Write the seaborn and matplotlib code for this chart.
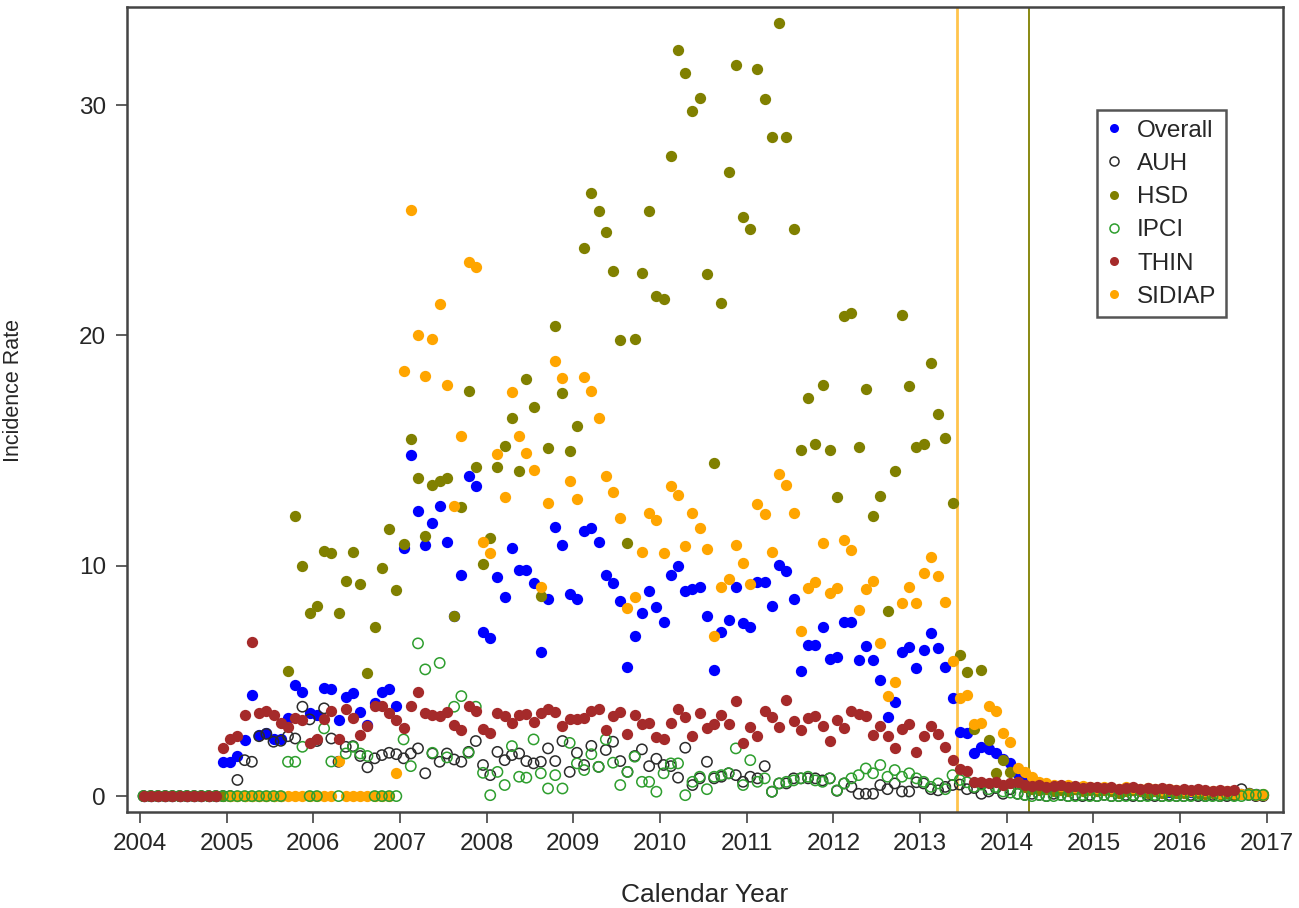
#!/usr/bin/env python3

import numpy as np
import pandas as pd
import matplotlib
matplotlib.use("Agg")
import matplotlib.pyplot as plt
import seaborn as sns
from matplotlib.lines import Line2D

sns.set_style("ticks")
plt.rcParams['font.family'] = ['Liberation Sans', 'DejaVu Sans']

nan = np.nan

# taxa mensal por base de dados, jan/2004 .. dez/2016 (uma linha por ano)
overall = [
    0, 0, 0, 0, 0, 0, 0, 0, 0, 0, 0, 1.49,
    1.49, 1.74, 2.43, 4.37, 2.65, 2.72, 2.5, 2.5, 3.37, 4.82, 4.53, 3.59,
    3.52, 4.7, 4.65, 3.3, 4.29, 4.46, 3.66, 3.08, 4.05, 4.53, 4.63, 3.92,
    10.76, 14.8, 12.37, 10.9, 11.87, 12.6, 11.02, 7.8, 9.6, 13.9, 13.46, 7.13,
    6.85, 9.5, 8.63, 10.76, 9.81, 9.81, 9.24, 6.24, 8.54, 11.7, 10.9, 8.76,
    8.55, 11.5, 11.65, 11.02, 9.6, 9.26, 8.47, 5.61, 6.96, 7.93, 8.9, 8.22,
    7.54, 9.6, 10.0, 8.9, 8.97, 9.06, 7.83, 5.47, 7.13, 7.64, 9.09, 7.5,
    7.35, 9.28, 9.3, 8.25, 10.03, 9.78, 8.54, 5.43, 6.56, 6.56, 7.35, 5.94,
    6.05, 7.57, 7.57, 5.9, 6.53, 5.9, 5.04, 3.44, 4.09, 6.27, 6.46, 5.54,
    6.34, 7.06, 6.41, 5.61, 4.24, 2.79, 2.72, 1.88, 2.14, 2.03, 1.88, 1.6,
    1.45, 0.95, 0.7, 0.55, 0.45, 0.4, 0.35, 0.38, 0.3, 0.32, 0.28, 0.3,
    0.25, 0.3, 0.28, 0.22, 0.3, 0.25, 0.2, 0.25, 0.22, 0.2, 0.18, 0.2,
    0.2, 0.18, 0.2, 0.15, 0.18, 0.15, 0.12, 0.15, 0.1, 0.12, 0.1, 0.05,
]

auh = [
    0, 0, 0, 0, 0, 0, 0, 0, 0, 0, 0, 0,
    0, 0.7, 1.56, 1.49, 2.6, 2.7, 2.36, 2.4, 2.6, 2.5, 3.88, 3.33,
    2.39, 3.81, 2.5, 1.49, 2.14, 2.17, 1.74, 1.25, 1.64, 1.78, 1.88, 1.82,
    1.64, 1.85, 2.07, 0.99, 1.85, 1.49, 1.85, 1.59, 1.49, 1.92, 2.39, 1.35,
    0.91, 1.92, 1.56, 1.78, 1.85, 1.52, 1.42, 1.49, 2.07, 1.52, 2.39, 1.05,
    1.88, 1.35, 2.18, 1.27, 2.0, 2.36, 1.52, 1.05, 1.74, 2.03, 1.3, 1.62,
    1.35, 1.3, 0.8, 2.1, 0.48, 0.77, 1.49, 0.77, 0.84, 0.99, 0.91, 0.62,
    0.84, 0.77, 1.3, 0.19, 0.55, 0.55, 0.77, 0.77, 0.77, 0.77, 0.68, 0.77,
    0.23, 0.55, 0.4, 0.1, 0.1, 0.1, 0.48, 0.3, 0.55, 0.2, 0.2, 0.6,
    0.55, 0.3, 0.25, 0.4, 0.48, 0.5, 0.3, 0.35, 0.1, 0.2, 0.35, 0.1,
    0.3, 0.1, 0.05, 0.1, 0.05, 0.0, 0.1, 0.05, 0.0, 0.05, 0.0, 0.05,
    0.0, 0.05, 0.0, 0.0, 0.05, 0.0, 0.0, 0.05, 0.0, 0.0, 0.05, 0.0,
    0.0, 0.05, 0.0, 0.0, 0.05, 0.0, 0.0, 0.05, 0.3, 0.05, 0.0, 0.0,
]

hsd = [
    0, 0, 0, 0, 0, 0, 0, 0, 0, 0, 0, 0,
    0, 0, 0, 0, 0, 0, 0, 0, 5.43, 12.14, 10.0, 7.97,
    8.26, 10.65, 10.55, 7.94, 9.35, 10.6, 9.2, 5.35, 7.35, 9.9, 11.6, 8.96,
    10.94, 15.5, 13.8, 11.3, 13.5, 13.7, 13.8, 7.8, 12.56, 17.6, 14.3, 10.07,
    11.2, 14.3, 15.2, 16.4, 14.1, 18.1, 16.9, 8.7, 15.1, 20.4, 17.5, 15.0,
    16.05, 23.8, 26.2, 25.4, 24.5, 22.8, 19.8, 11.0, 19.85, 22.7, 25.4, 21.7,
    21.6, 27.8, 32.4, 31.4, 29.76, 30.3, 22.67, 14.45, 21.42, 27.1, 31.74, 25.15,
    24.6, 31.55, 30.26, 28.6, 33.55, 28.6, 24.6, 15.02, 17.3, 15.3, 17.85, 15.02,
    12.97, 20.84, 20.96, 15.14, 17.66, 12.16, 13.03, 8.05, 14.13, 20.9, 17.82, 15.17,
    15.27, 18.8, 16.59, 15.53, 12.74, 6.12, 5.4, 2.9, 5.47, 2.43, 1.0, 1.56,
    1.05, 0.6, 0.4, 0.3, 0.25, 0.3, 0.2, 0.25, 0.2, 0.3, 0.2, 0.25,
    0.2, 0.25, 0.2, 0.15, 0.2, 0.25, 0.2, 0.15, 0.2, 0.15, 0.2, 0.15,
    0.15, 0.2, 0.15, 0.1, 0.15, 0.1, 0.15, 0.1, 0.1, 0.15, 0.1, 0.1,
]

ipci = [
    0, 0, 0, 0, 0, 0, 0, 0, 0, 0, 0, 0,
    0, 0, 0, 0, 0, 0, 0, 0, 1.49, 1.49, 2.14, 0,
    0, 2.94, 1.5, 0, 1.85, 2.14, 1.85, 1.74, 0, 0, 0, 0,
    2.46, 1.3, 6.63, 5.5, 1.88, 5.78, 1.68, 3.88, 4.34, 1.88, 3.88, 1.01,
    0.04, 1.05, 0.48, 2.17, 0.84, 0.8, 2.46, 0.99, 0.33, 0.91, 0.33, 2.31,
    1.42, 1.13, 1.82, 1.27, 2.46, 1.45, 0.48, 1.05, 1.71, 0.62, 0.62, 0.19,
    0.99, 1.42, 1.42, 0.04, 0.62, 0.84, 0.3, 0.84, 0.91, 0.99, 2.07, 0.48,
    1.56, 0.62, 0.77, 0.19, 0.55, 0.62, 0.68, 0.77, 0.84, 0.68, 0.62, 0.77,
    0.25, 0.55, 0.77, 0.91, 1.2, 0.99, 1.35, 0.84, 1.13, 0.84, 0.99, 0.77,
    0.62, 0.4, 0.55, 0.3, 0.91, 0.7, 0.6, 0.4, 0.5, 0.3, 0.4, 0.2,
    0.15, 0.1, 0.05, 0.0, 0.05, 0.0, 0.0, 0.05, 0.0, 0.0, 0.05, 0.0,
    0.0, 0.05, 0.0, 0.0, 0.0, 0.05, 0.0, 0.0, 0.05, 0.0, 0.0, 0.0,
    0.0, 0.0, 0.05, 0.0, 0.0, 0.0, 0.05, 0.0, 0.0, 0.05, 0.05, 0.05,
]

thin = [
    0, 0, 0, 0, 0, 0, 0, 0, 0, 0, 0, 2.07,
    2.5, 2.6, 3.52, 6.67, 3.59, 3.69, 3.52, 3.16, 3.01, 3.37, 3.3, 2.29,
    2.5, 3.33, 3.69, 2.5, 3.76, 3.37, 2.65, 3.04, 3.91, 3.91, 3.59, 3.3,
    2.97, 3.9, 4.5, 3.59, 3.52, 3.47, 3.66, 3.1, 2.88, 3.9, 3.68, 2.9,
    2.75, 3.6, 3.47, 3.17, 3.52, 3.56, 3.2, 3.6, 3.76, 3.66, 3.04, 3.36,
    3.36, 3.39, 3.7, 3.8, 2.88, 3.47, 3.66, 2.71, 3.52, 3.13, 3.17, 2.58,
    2.46, 3.18, 3.78, 3.45, 2.6, 3.6, 2.96, 3.14, 3.5, 3.12, 4.14, 2.32,
    3.0, 2.6, 3.68, 3.45, 3.0, 4.18, 3.28, 2.88, 3.37, 3.47, 3.04, 2.41,
    3.3, 2.96, 3.7, 3.56, 3.47, 2.64, 3.04, 2.6, 2.1, 2.9, 3.13, 1.92,
    2.6, 3.04, 2.68, 2.14, 1.56, 1.16, 1.1, 0.62, 0.6, 0.55, 0.6, 0.5,
    0.55, 0.6, 0.5, 0.45, 0.5, 0.4, 0.45, 0.5, 0.4, 0.45, 0.35, 0.4,
    0.4, 0.35, 0.4, 0.3, 0.35, 0.4, 0.3, 0.35, 0.3, 0.35, 0.3, 0.25,
    0.3, 0.25, 0.3, 0.25, 0.2, 0.25, 0.2, 0.25, nan, nan, nan, nan,
]

sidiap = [
    nan, nan, nan, nan, nan, nan, nan, nan, nan, nan, nan, nan,
    0, 0, 0, 0, 0, 0, 0, 0, 0, 0, 0, 0,
    0, 0, 0, 1.52, 0, 0, 0, 0, 0, 0, 0, 1.0,
    18.45, 25.45, 20.0, 18.25, 19.83, 21.36, 17.83, 12.6, 15.63, 23.2, 22.95, 11.04,
    10.54, 14.84, 13.0, 17.55, 15.64, 14.88, 14.16, 9.09, 12.73, 18.9, 18.14, 13.68,
    12.88, 18.2, 17.6, 16.43, 13.9, 13.2, 12.09, 8.15, 8.65, 10.6, 12.3, 12.0,
    10.56, 13.46, 13.07, 10.87, 12.27, 11.62, 10.71, 6.95, 9.09, 9.41, 10.9, 10.1,
    9.2, 12.7, 12.23, 10.6, 13.98, 13.5, 12.3, 7.18, 9.02, 9.3, 10.97, 8.8,
    9.02, 11.12, 10.68, 8.1, 8.97, 9.35, 6.66, 4.34, 4.96, 8.37, 9.09, 8.37,
    9.7, 10.39, 9.55, 8.44, 5.86, 4.27, 4.41, 3.15, 3.18, 3.9, 3.7, 2.72,
    2.33, 1.2, 1.05, 0.81, 0.6, 0.55, 0.5, 0.45, 0.5, 0.4, 0.45, 0.4,
    0.35, 0.4, 0.35, 0.3, 0.4, 0.35, 0.3, 0.35, 0.3, 0.25, 0.3, 0.25,
    0.25, 0.2, 0.25, 0.2, 0.2, 0.15, 0.2, 0.15, 0.1, 0.1, 0.05, 0.05,
]

# datas de corte (linhas verticais)
corte_sidiap = 2013.43
corte_hsd = 2014.26

meses = pd.date_range("2004-01-01", periods=len(overall), freq="MS")
df = pd.DataFrame({
    "ano": meses.year + (meses.month - 0.5) / 12,
    "Overall": overall, "AUH": auh, "HSD": hsd,
    "IPCI": ipci, "THIN": thin, "SIDIAP": sidiap,
})

# nome -> (cor, marcador aberto?)  na ordem da legenda
estilos = {
    "Overall": ("#0000FF", False),
    "AUH": ("#2b2b2b", True),
    "HSD": ("#808000", False),
    "IPCI": ("#2E9E2E", True),
    "THIN": ("#A52A2A", False),
    "SIDIAP": ("#FFA500", False),
}
ordem_desenho = ["Overall", "AUH", "HSD", "SIDIAP", "IPCI", "THIN"]

fig = plt.figure(figsize=(12.99, 9.08), dpi=100)
ax = fig.add_axes([0.0975, 0.106, 0.8902, 0.8866])

for nome in ordem_desenho:
    cor, aberto = estilos[nome]
    if aberto:
        sns.scatterplot(x="ano", y=nome, data=df, ax=ax, s=55, marker="o",
                        facecolor="none", edgecolor=cor, linewidth=1.1, legend=False)
    else:
        sns.scatterplot(x="ano", y=nome, data=df, ax=ax, s=66, marker="o",
                        color=cor, linewidth=0, legend=False)

ax.axvline(corte_sidiap, color="#FFC44D", lw=2.0, zorder=0)
ax.axvline(corte_hsd, color="#808000", lw=1.3, zorder=0)

ax.set_xlim(2003.847, 2017.188)
ax.set_ylim(-0.68, 34.27)
ax.set_xticks(range(2004, 2018))
ax.set_yticks([0, 10, 20, 30])
ax.tick_params(axis="both", labelsize=17.5, length=8, width=1.1, color="#333333", pad=7)
ax.set_xlabel("Calendar Year", fontsize=19)
ax.set_ylabel("Incidence Rate", fontsize=15.5)
ax.xaxis.set_label_coords(0.5, -0.088)
ax.yaxis.set_label_coords(-0.089, 0.523)
for sp in ax.spines.values():
    sp.set_visible(True)
    sp.set_color("#444444")
    sp.set_linewidth(1.8)

handles = []
for nome, (cor, aberto) in estilos.items():
    if aberto:
        handles.append(Line2D([], [], ls="none", marker="o", markersize=6.5,
                              markerfacecolor="none", markeredgecolor=cor, markeredgewidth=1.1))
    else:
        handles.append(Line2D([], [], ls="none", marker="o", markersize=6.5,
                              markerfacecolor=cor, markeredgewidth=0))
leg = ax.legend(handles, list(estilos.keys()), loc="upper left",
                bbox_to_anchor=(1097 / 1299, 1 - 110 / 908), bbox_transform=fig.transFigure,
                borderaxespad=0, fontsize=17.5, labelspacing=0.46, handlelength=0.6,
                handletextpad=0.65, borderpad=0.4, fancybox=False, framealpha=1)
leg.get_frame().set_edgecolor("#555555")
leg.get_frame().set_linewidth(1.8)

fig.savefig("out.png", dpi=100)
